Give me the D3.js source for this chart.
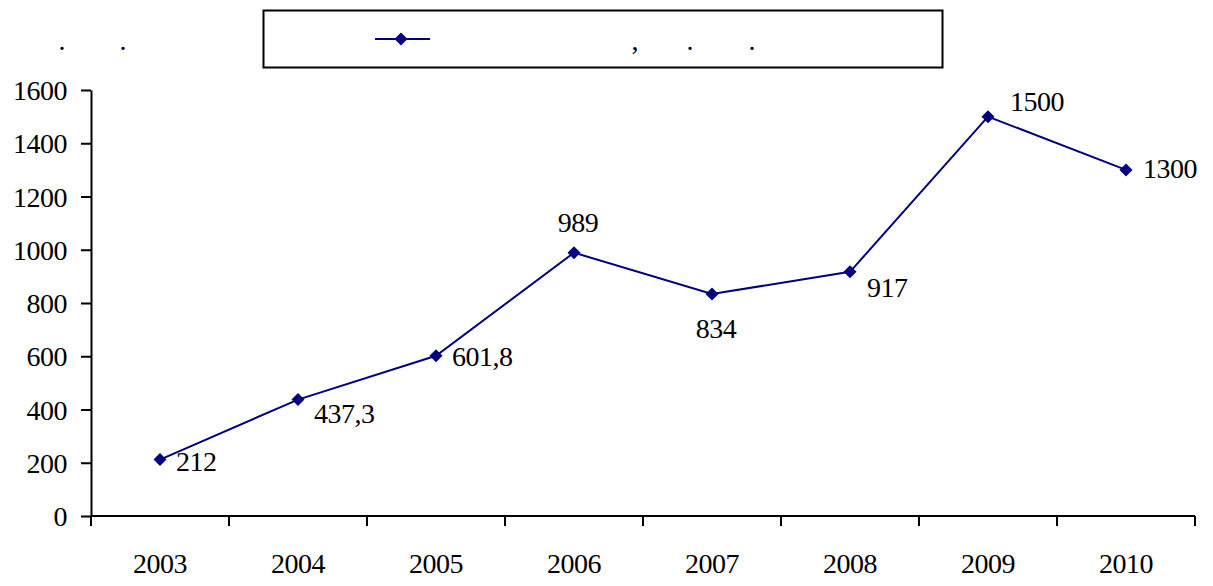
<!DOCTYPE html>
<html><head><meta charset="utf-8">
<script src="https://cdn.jsdelivr.net/npm/d3@7"></script>
<style>body{margin:0;background:#fff}svg{display:block}text{font-family:"Liberation Serif","Times New Roman",serif;fill:#000}</style>
</head><body><svg id="c" width="1213" height="586"></svg>
<script>
const categories = ["2003","2004","2005","2006","2007","2008","2009","2010"];
const values = [212, 437.3, 601.8, 989, 834, 917, 1500, 1300];
const valueLabels = ["212","437,3","601,8","989","834","917","1500","1300"];
const yTicks = [0,200,400,600,800,1000,1200,1400,1600];
// label placement relative to point: [dx, dy, anchor]
const labelPos = [[16,2,"start"],[16,14,"start"],[16,1,"start"],[4,-30,"middle"],[4,35,"middle"],[17,16,"start"],[22,-15,"start"],[17,-1,"start"]];
// visible punctuation of the title and legend text
const titleMarks = [[62,"."],[123,"."]];
const legendMarks = [[635,","],[690,"."],[752,"."]];

const FS = 28;
const svg = d3.select("#c");
const m = {l:91, r:1195, t:90, b:516};
const x = d3.scaleBand().domain(categories).range([m.l, m.r]);
const y = d3.scaleLinear().domain([0,1600]).range([m.b, m.t]);
const navy = "#000080";

// y axis
const ya = svg.append("g").attr("transform",`translate(${m.l},0)`)
  .call(d3.axisLeft(y).tickValues(yTicks).tickFormat(d3.format("d")).tickSize(10).tickPadding(14).tickSizeOuter(0));
// x axis
const xa = svg.append("g").attr("transform",`translate(0,${m.b})`)
  .call(d3.axisBottom(x).tickSize(0).tickPadding(37));
[ya,xa].forEach(g=>{
  g.attr("font-family",null).attr("font-size",null);
  g.select(".domain").attr("stroke","#000").attr("stroke-width",2);
  g.selectAll(".tick line").attr("stroke","#000").attr("stroke-width",2);
  g.selectAll("text").attr("font-size",FS).attr("letter-spacing",-0.5).attr("fill","#000");
});
ya.selectAll(".tick text").attr("dy","0.34em");
xa.select(".domain").attr("d",`M${m.l},0H${m.r}`);
// x tick marks at band boundaries
const bounds = categories.map(c=>x(c)).concat([m.r]);
svg.append("g").selectAll("line").data(bounds).join("line")
  .attr("x1",d=>d).attr("x2",d=>d).attr("y1",m.b).attr("y2",m.b+10)
  .attr("stroke","#000").attr("stroke-width",2);

const cx = (d,i)=>x(categories[i])+x.bandwidth()/2;
const line = d3.line().x((d,i)=>cx(d,i)).y(d=>y(d));
svg.append("path").datum(values).attr("d",line).attr("fill","none").attr("stroke",navy).attr("stroke-width",2);
const diamond = (px,py,r)=>`M${px},${py-r}L${px+r},${py}L${px},${py+r}L${px-r},${py}Z`;
svg.append("g").selectAll("path").data(values).join("path")
  .attr("d",(d,i)=>diamond(cx(d,i),y(d),6.5)).attr("fill",navy);
svg.append("g").selectAll("text").data(values).join("text")
  .attr("x",(d,i)=>cx(d,i)+labelPos[i][0]).attr("y",(d,i)=>y(d)+labelPos[i][1])
  .attr("dy","0.34em").attr("text-anchor",(d,i)=>labelPos[i][2])
  .attr("font-size",FS).attr("letter-spacing",-0.5).text((d,i)=>valueLabels[i]);

// title marks
svg.append("g").selectAll("text").data(titleMarks).join("text")
  .attr("x",d=>d[0]).attr("y",50).attr("text-anchor","middle").attr("font-size",FS).text(d=>d[1]);
// legend
svg.append("rect").attr("x",263.5).attr("y",10.5).attr("width",679).attr("height",57)
  .attr("fill","none").attr("stroke","#000").attr("stroke-width",2);
svg.append("line").attr("x1",375).attr("x2",430).attr("y1",39).attr("y2",39).attr("stroke",navy).attr("stroke-width",2);
svg.append("path").attr("d",diamond(401,39,6.5)).attr("fill",navy);
svg.append("g").selectAll("text").data(legendMarks).join("text")
  .attr("x",d=>d[0]).attr("y",50).attr("text-anchor","middle").attr("font-size",FS).text(d=>d[1]);
</script></body></html>
